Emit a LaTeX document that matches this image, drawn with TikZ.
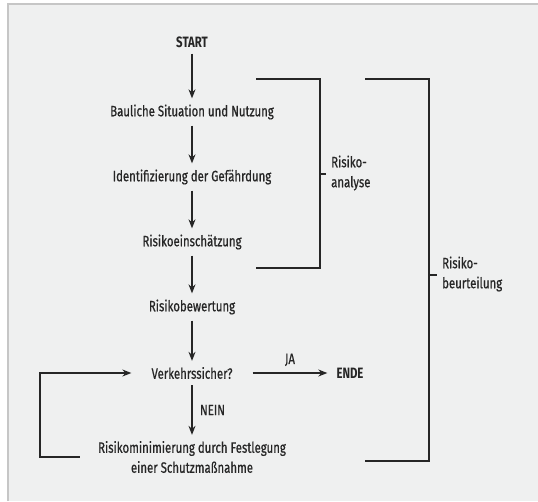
\documentclass[tikz,border=0pt]{standalone}
\usepackage{fontspec}
\setmainfont{Fira Sans}[FakeStretch=0.76,UprightFeatures={FakeBold=0.6}]
\usepackage{tikz}
\usetikzlibrary{arrows.meta, positioning}
\definecolor{paper}{HTML}{EFF0F0}
\definecolor{rim}{HTML}{C6C6C6}
\definecolor{ink}{HTML}{262626}

\begin{document}
\begin{tikzpicture}[x=1pt,y=-1pt,node distance=65pt,on grid,>={Stealth[length=9pt,width=7pt]},
        every node/.style={text=ink,font=\fontsize{15}{20}\selectfont},
        stage/.style={inner xsep=20pt,inner ysep=6pt,align=center},
        flow/.style={draw=ink,line width=1.3pt},
        bracket/.style={draw=ink,line width=1.3pt}]

    % sheet
    \useasboundingbox (0,0) rectangle (538,501);
    \fill[white] (0,0) rectangle (538,501);
    \fill[paper] (8,4) rectangle (538,501);
    \draw[rim,line width=1.5pt] (8,501) -- (8,4) -- (538,4);

    \node[stage] (start) at (192,42) {\bfseries START};
    \node[stage] (baul) [below=70pt of start] {Bauliche Situation und Nutzung};
    \node[stage] (ident) [below=of baul] {Identifizierung der Gefährdung};
    \node[stage] (einsch) [below=of ident] {Risikoeinschätzung};
    \node[stage] (bewert) [below=of einsch] {Risikobewertung};
    \node[stage] (verk) [below=66pt of bewert] {Verkehrssicher?};
    \node[stage,inner xsep=9pt] (ende) [right=158pt of verk] {\bfseries ENDE};
    \node[stage,inner xsep=18pt] (minim) [below=84pt of verk] {Risikominimierung durch Festlegung\\einer Schutzmaßnahme};
    \coordinate (loop) at (40,461);

    \path[->,flow] (start) edge (baul)
        (baul) edge (ident)
        (ident) edge (einsch)
        (einsch) edge (bewert)
        (bewert) edge (verk)
        (verk) edge node[above=3pt] {JA} (ende)
        (verk) edge node[right=4pt] {NEIN} (minim);
    \draw[->,flow] (minim.west) -- (minim.west -| loop) |- (verk.west);

    % brackets
    \coordinate (ana) at (320,79);
    \coordinate (beu) at (429,79);
    \draw[bracket] (256,79) -- (ana) -- (320,268) -- (256,268);
    \draw[bracket] (320,174) -- ++(6,0);
    \node[anchor=west,align=left,inner sep=0pt] (analyse) at (331,173) {Risiko-\\analyse};
    \draw[bracket] (365,79) -- (beu) -- (429,461) -- (365,461);
    \draw[bracket] (429,275) -- ++(8,0);
    \node[anchor=west,align=left,inner sep=0pt] (beurt) at (442,274) {Risiko-\\beurteilung};
\end{tikzpicture}
\end{document}
